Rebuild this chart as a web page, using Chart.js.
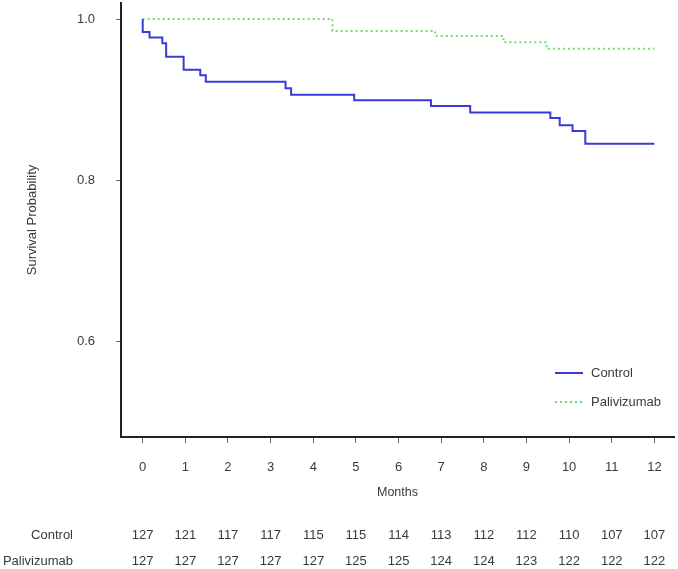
<!DOCTYPE html>
<html lang="en">
  <head>
    <meta charset="UTF-8" />
    <title>Survival Probability</title>
    <style>
      body { margin: 0; background: #fff; }
      canvas { display: block; }
    </style>
  </head>
  <body>
    <canvas id="kmChart" width="678" height="569"></canvas>

    <script src="https://cdn.jsdelivr.net/npm/chart.js@4.4.0/dist/chart.umd.min.js"></script>
    <script>
      // Kaplan-Meier steps (month, survival)
      const controlTime = [0, 0, 0.16, 0.46, 0.55, 0.96, 1.35, 1.48, 3.35, 3.48, 4.96, 6.76, 7.68, 9.56, 9.78, 10.08, 10.38, 12];
      const controlSurv = [1, 0.984, 0.977, 0.970, 0.953, 0.937, 0.930, 0.922, 0.914, 0.906, 0.899, 0.892, 0.884, 0.877, 0.868, 0.861, 0.845, 0.845];

      const paliTime = [0, 4.45, 6.86, 8.46, 9.47, 12];
      const paliSurv = [1, 0.985, 0.979, 0.971, 0.963, 0.963];

      // Axis ticks
      const months = [0, 1, 2, 3, 4, 5, 6, 7, 8, 9, 10, 11, 12];
      const yTicks = [0.6, 0.8, 1.0];

      // Numbers at risk
      const controlRisk = [127, 121, 117, 117, 115, 115, 114, 113, 112, 112, 110, 107, 107];
      const paliRisk = [127, 127, 127, 127, 127, 125, 125, 124, 124, 123, 122, 122, 122];

      const FONT = '"Liberation Sans", Arial, sans-serif';
      const TEXT = "#3a3a3a";
      const BLUE = "rgb(58, 58, 214)";
      const GREEN = "rgb(112, 220, 112)";

      const toPoints = (ts, ss) => ts.map((t, i) => ({ x: t, y: ss[i] }));

      // legend + numbers-at-risk table, drawn on the canvas
      const extrasPlugin = {
        id: "extras",
        afterDraw(chart) {
          const ctx = chart.ctx;
          const xs = chart.scales.x;
          ctx.save();
          ctx.font = "13px " + FONT;
          ctx.fillStyle = TEXT;
          ctx.textBaseline = "middle";

          // legend
          const items = [
            { label: "Control", color: BLUE, dash: [], y: 373 },
            { label: "Palivizumab", color: GREEN, dash: [2, 3], y: 402 },
          ];
          items.forEach((it) => {
            ctx.strokeStyle = it.color;
            ctx.lineWidth = 2;
            ctx.setLineDash(it.dash);
            ctx.beginPath();
            ctx.moveTo(555, it.y);
            ctx.lineTo(583, it.y);
            ctx.stroke();
            ctx.setLineDash([]);
            ctx.textAlign = "left";
            ctx.fillText(it.label, 591, it.y);
          });

          // table
          const rows = [
            { label: "Control", values: controlRisk, y: 535 },
            { label: "Palivizumab", values: paliRisk, y: 561 },
          ];
          rows.forEach((r) => {
            ctx.textAlign = "right";
            ctx.fillText(r.label, 73, r.y);
            ctx.textAlign = "center";
            r.values.forEach((v, i) => {
              ctx.fillText(String(v), xs.getPixelForValue(months[i]), r.y);
            });
          });
          ctx.restore();
        },
      };

      const ctx = document.getElementById("kmChart").getContext("2d");
      const kmChart = new Chart(ctx, {
        type: "line",
        data: {
          datasets: [
            {
              label: "Control",
              data: toPoints(controlTime, controlSurv),
              borderColor: BLUE,
              borderWidth: 2,
              pointRadius: 0,
              stepped: true,
              fill: false,
            },
            {
              label: "Palivizumab",
              data: toPoints(paliTime, paliSurv),
              borderColor: GREEN,
              borderWidth: 2,
              borderDash: [2, 3],
              pointRadius: 0,
              stepped: true,
              fill: false,
            },
          ],
        },
        options: {
          responsive: false,
          animation: false,
          layout: { padding: { top: 3, right: 4, bottom: 65, left: 0 } },
          plugins: {
            legend: { display: false },
            tooltip: { enabled: false },
          },
          scales: {
            x: {
              type: "linear",
              min: -0.509,
              max: 12.46,
              afterBuildTicks: (s) => {
                s.ticks = months.map((v) => ({ value: v }));
              },
              afterFit: (s) => {
                s.height = 67;
                s.paddingLeft = 0;
                s.paddingRight = 0;
              },
              ticks: {
                includeBounds: false,
                color: TEXT,
                padding: 17,
                maxRotation: 0,
                font: { size: 13, family: FONT },
              },
              grid: {
                drawOnChartArea: false,
                tickLength: 6,
                tickColor: "#666",
                tickWidth: 1,
              },
              border: { display: true, color: "#222", width: 2 },
              title: {
                display: true,
                text: "Months",
                color: TEXT,
                padding: { top: 4, bottom: 4 },
                font: { size: 12.5, family: FONT },
              },
            },
            y: {
              type: "linear",
              min: 0.4808,
              max: 1.0199,
              afterBuildTicks: (s) => {
                s.ticks = yTicks.map((v) => ({ value: v }));
              },
              afterFit: (s) => {
                s.width = 121;
                s.paddingTop = 0;
                s.paddingBottom = 0;
              },
              ticks: {
                includeBounds: false,
                color: TEXT,
                padding: 21,
                font: { size: 13, family: FONT },
                callback: (v) => Number(v).toFixed(1),
              },
              grid: {
                drawOnChartArea: false,
                tickLength: 5,
                tickColor: "#666",
                tickWidth: 1,
              },
              border: { display: true, color: "#222", width: 2 },
              title: {
                display: true,
                text: "Survival Probability",
                color: TEXT,
                padding: { top: 25, bottom: 4 },
                font: { size: 13, family: FONT },
              },
            },
          },
        },
        plugins: [extrasPlugin],
      });
    </script>
  </body>
</html>
